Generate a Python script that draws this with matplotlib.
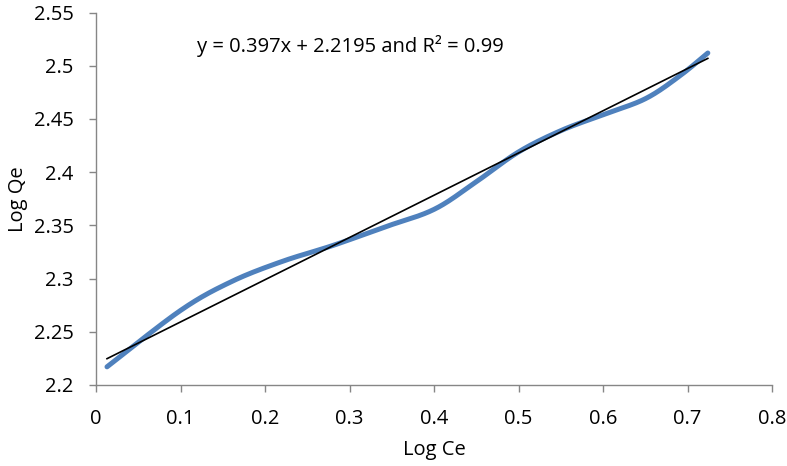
import numpy as np
import matplotlib
matplotlib.use("Agg")
import matplotlib.pyplot as plt

# Data
log_ce = [0.013, 0.10, 0.16, 0.22, 0.28, 0.34, 0.40, 0.45, 0.50, 0.55, 0.60, 0.65, 0.69, 0.724]
log_qe = [2.217, 2.270, 2.297, 2.316, 2.331, 2.348, 2.365, 2.391, 2.419, 2.439, 2.454, 2.469, 2.490, 2.512]
slope = 0.397
intercept = 2.2195
equation = "y = 0.397x + 2.2195 and R² = 0.99"
x_ticks = [0, 0.1, 0.2, 0.3, 0.4, 0.5, 0.6, 0.7, 0.8]
x_tick_labels = ['0', '0.1', '0.2', '0.3', '0.4', '0.5', '0.6', '0.7', '0.8']
y_ticks = [2.2, 2.25, 2.3, 2.35, 2.4, 2.45, 2.5, 2.55]
y_tick_labels = ['2.2', '2.25', '2.3', '2.35', '2.4', '2.45', '2.5', '2.55']

plt.rcParams['font.family'] = ['Open Sans', 'DejaVu Sans']

fig = plt.figure(figsize=(7.87, 4.66), dpi=100)
ax = fig.add_axes([0.122, 0.174, 0.859, 0.799])
ax.set_xlim(0, 0.8)
ax.set_ylim(2.2, 2.55)


def smooth(xs, ys, n=40):
    # Excel-like smoothed line: cubic Bezier segments with Catmull-Rom tangents
    xs = np.asarray(xs, float)
    ys = np.asarray(ys, float)
    sx = 0.8
    sy = 0.35 * (0.799 * 4.66) / (0.859 * 7.87)
    P = np.column_stack([xs / sx, ys / sy])
    out = []
    m = len(P)
    for i in range(m - 1):
        p0 = P[max(i - 1, 0)]
        p1 = P[i]
        p2 = P[i + 1]
        p3 = P[min(i + 2, m - 1)]
        c1 = p1 + (p2 - p0) / 6.0
        c2 = p2 - (p3 - p1) / 6.0
        t = np.linspace(0, 1, n)[:, None]
        seg = ((1 - t) ** 3) * p1 + 3 * ((1 - t) ** 2) * t * c1 + 3 * (1 - t) * t ** 2 * c2 + t ** 3 * p2
        out.append(seg if i == 0 else seg[1:])
    out = np.vstack(out)
    return out[:, 0] * sx, out[:, 1] * sy


sx_, sy_ = smooth(log_ce, log_qe)
ax.plot(sx_, sy_, color='#4F81BD', lw=3.6, solid_capstyle='round', zorder=2)

tx = np.array([log_ce[0], log_ce[-1]])
ax.plot(tx, slope * tx + intercept, color='black', lw=1.2, zorder=3)

ax.text(0.119, 2.519, equation, fontsize=14.5, va='center', ha='left')

ax.set_xticks(x_ticks)
ax.set_xticklabels(x_tick_labels)
ax.set_yticks(y_ticks)
ax.set_yticklabels(y_tick_labels)

for s in ['top', 'right']:
    ax.spines[s].set_visible(False)
for s in ['left', 'bottom']:
    ax.spines[s].set_color('#868686')
    ax.spines[s].set_linewidth(1.0)
ax.tick_params(axis='both', direction='out', length=5, width=1.0, color='#868686',
               labelsize=14.5, labelcolor='black')
ax.tick_params(axis='x', pad=12)
ax.tick_params(axis='y', pad=11)

ax.set_xlabel('Log Ce', fontsize=14.5, labelpad=8)
ax.set_ylabel('Log Qe', fontsize=14.5, labelpad=4)

fig.savefig('out.png', dpi=100)
